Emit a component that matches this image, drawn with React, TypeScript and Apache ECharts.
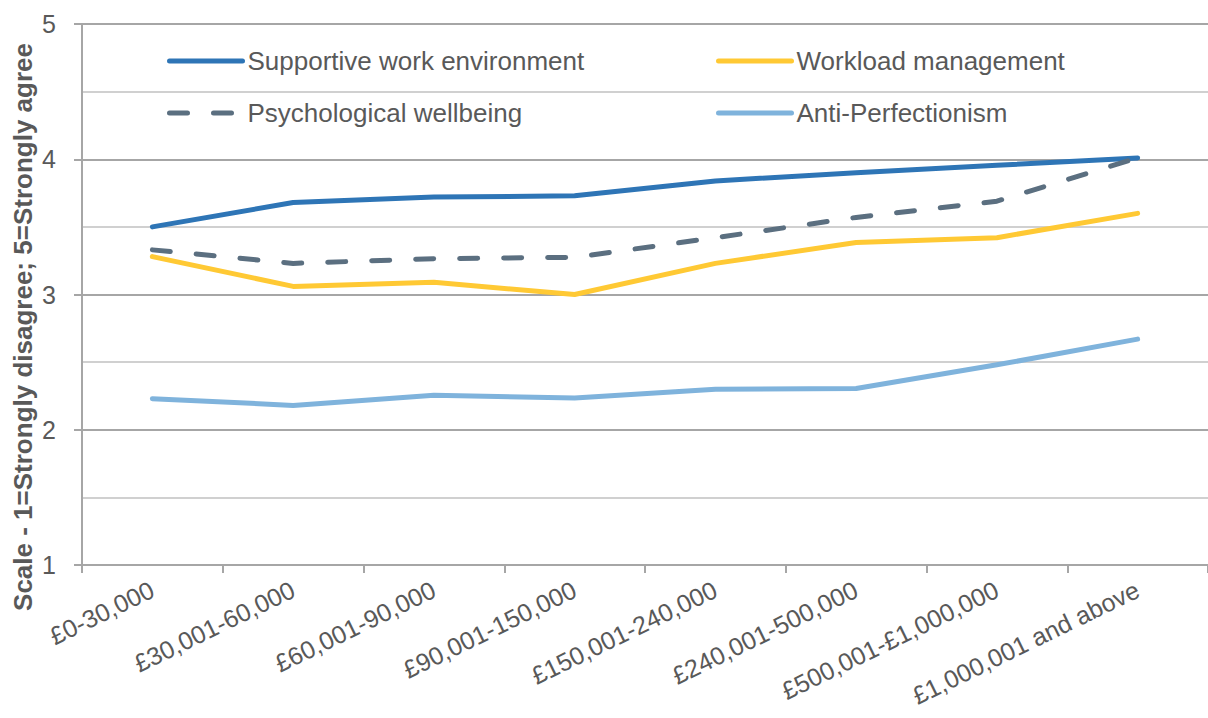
import React, { useEffect, useRef } from "react";
import * as echarts from "echarts";

const categories = [
  "£0-30,000",
  "£30,001-60,000",
  "£60,001-90,000",
  "£90,001-150,000",
  "£150,001-240,000",
  "£240,001-500,000",
  "£500,001-£1,000,000",
  "£1,000,001 and above",
];

const supportive = [3.5, 3.68, 3.72, 3.73, 3.84, 3.9, 3.955, 4.01];
const workload = [3.28, 3.06, 3.09, 3.0, 3.23, 3.385, 3.42, 3.6];
const psychological = [3.33, 3.23, 3.265, 3.275, 3.42, 3.57, 3.69, 4.01];
const antiPerfectionism = [2.23, 2.18, 2.255, 2.235, 2.3, 2.305, 2.48, 2.67];

const yAxisTitle = "Scale - 1=Strongly disagree; 5=Strongly agree";

const FONT = '"Liberation Sans", Arial, sans-serif';
const TEXT = "#595959";

export default function App() {
  const ref = useRef<HTMLDivElement>(null);

  useEffect(() => {
    document.body.style.margin = "0";
    if (!ref.current) return;
    const chart = echarts.init(ref.current, undefined, { renderer: "svg" });

    const legendBase = {
      orient: "horizontal",
      padding: 0,
      itemWidth: 73,
      itemHeight: 14,
      textStyle: { fontSize: 26, color: TEXT, fontFamily: FONT },
      lineStyle: { width: 5 },
      itemStyle: { opacity: 0 },
      selectedMode: false,
    };

    const mkSeries = (name: string, data: number[], color: string, dashed = false) => ({
      name,
      type: "line",
      data,
      symbol: "none",
      smooth: false,
      color,
      lineStyle: {
        color,
        width: 5,
        cap: "round",
        join: "round",
        type: dashed ? [18, 26] : "solid",
      },
    });

    chart.setOption({
      animation: false,
      backgroundColor: "#ffffff",
      textStyle: { fontFamily: FONT },
      grid: {
        left: 82,
        right: 0,
        top: 24,
        bottom: 153,
        containLabel: false,
        outerBoundsMode: "none",
      },
      legend: [
        { ...legendBase, data: ["Supportive work environment"], left: 167, top: 48 },
        { ...legendBase, data: ["Workload management"], left: 716, top: 48 },
        { ...legendBase, data: ["Psychological wellbeing"], left: 167, top: 100 },
        { ...legendBase, data: ["Anti-Perfectionism"], left: 716, top: 100 },
      ],
      xAxis: {
        type: "category",
        data: categories,
        boundaryGap: true,
        axisLine: { show: true, lineStyle: { color: "#a6a6a6", width: 2 } },
        axisTick: { show: true, length: 8, interval: 0, lineStyle: { color: "#a6a6a6", width: 2 } },
        axisLabel: {
          interval: 0,
          rotate: 26,
          margin: 23,
          fontSize: 25,
          color: TEXT,
          fontFamily: FONT,
        },
        splitLine: { show: false },
      },
      yAxis: {
        type: "value",
        min: 1,
        max: 5,
        interval: 1,
        axisLine: { show: true, lineStyle: { color: "#a6a6a6", width: 2 } },
        axisTick: { show: true, length: 8, lineStyle: { color: "#a6a6a6", width: 2 } },
        axisLabel: { fontSize: 25, color: TEXT, margin: 26, fontFamily: FONT },
        splitLine: { show: true, lineStyle: { color: "#a6a6a6", width: 2 } },
        minorTick: { show: false, splitNumber: 2 },
        minorSplitLine: { show: true, lineStyle: { color: "#d0d0d0", width: 2 } },
      },
      graphic: [
        {
          type: "text",
          x: 23,
          y: 327,
          rotation: Math.PI / 2,
          style: {
            text: yAxisTitle,
            font: `bold 26px ${FONT}`,
            fill: TEXT,
            textAlign: "center",
            textVerticalAlign: "middle",
          },
        },
      ],
      series: [
        mkSeries("Supportive work environment", supportive, "#2E75B6"),
        mkSeries("Workload management", workload, "#FFC934"),
        mkSeries("Psychological wellbeing", psychological, "#5B6F80", true),
        mkSeries("Anti-Perfectionism", antiPerfectionism, "#7FB3DC"),
      ],
    });

    return () => chart.dispose();
  }, []);

  return <div ref={ref} style={{ width: 1208, height: 718 }} />;
}
